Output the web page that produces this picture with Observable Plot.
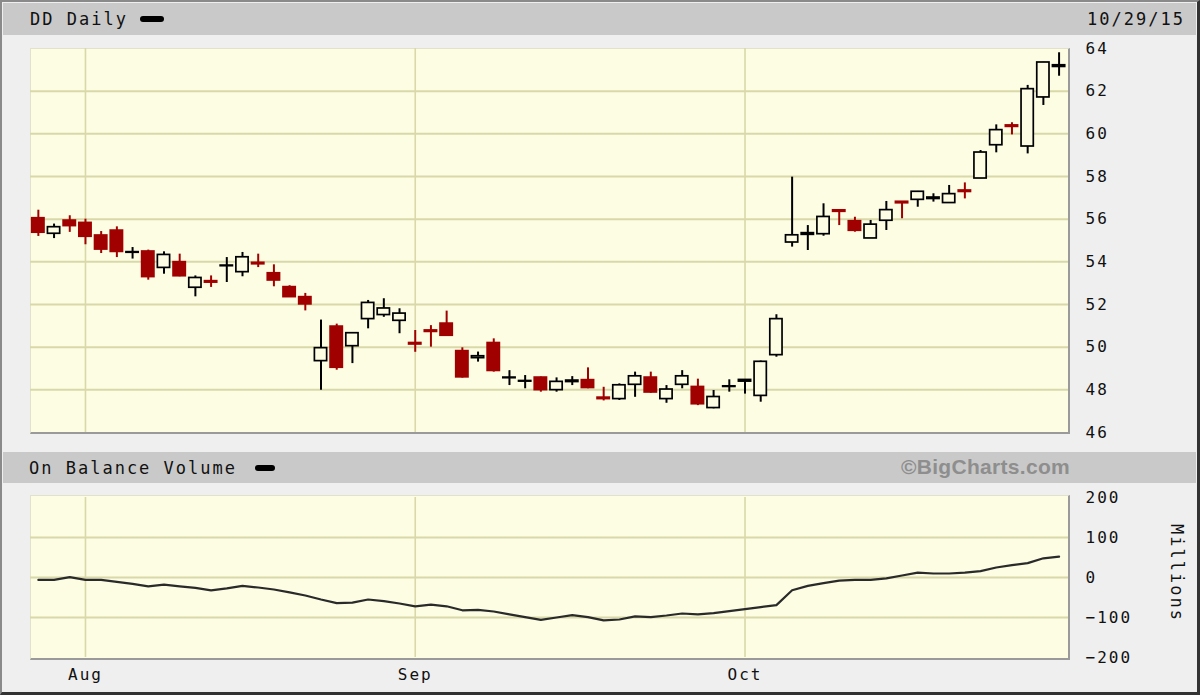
<!DOCTYPE html>
<html><head><meta charset="utf-8">
<script src="https://cdn.jsdelivr.net/npm/d3@7"></script>
<script src="https://cdn.jsdelivr.net/npm/@observablehq/plot@0.6"></script>
<style>
body{margin:0;background:#fff;}
#wrap{position:relative;width:1200px;height:695px;background:#efefef;overflow:hidden;font-family:"DejaVu Sans Mono",monospace;}
.bar{position:absolute;left:3px;width:1193px;background:#c9c9c9;}
.lbl{position:absolute;font-size:17px;letter-spacing:2px;color:#111;line-height:1;white-space:nowrap;}
.dash{position:absolute;background:#000;border-radius:3px;}
.panel{position:absolute;background:#fdfde4;border-top:1px solid #e2e2cc;border-left:1px solid #e2e2cc;border-right:2px solid #9a9a9a;border-bottom:2px solid #9a9a9a;box-sizing:border-box;}
.chart{position:absolute;left:0;}
.chart svg{overflow:visible;}
#frame{position:absolute;left:0;top:0;width:1200px;height:695px;box-sizing:border-box;border:2px solid #8a8a8a;border-right:3px solid #333;border-bottom:3px solid #333;pointer-events:none;}
</style>
</head><body>
<div id="wrap">
  <div class="bar" style="top:3px;height:32px;"></div>
  <div class="lbl" style="left:30px;top:11px;">DD Daily</div>
  <div class="dash" style="left:140px;top:16px;width:24px;height:6px;"></div>
  <div class="lbl" style="right:15px;top:11px;">10/29/15</div>
  <div class="panel" style="left:30px;top:48px;width:1040px;height:386px;"></div>
  <div class="bar" style="top:452px;height:31px;"></div>
  <div class="lbl" style="left:29px;top:460px;">On Balance Volume</div>
  <div class="dash" style="left:255px;top:465px;width:20px;height:6px;"></div>
  <div class="lbl" style="right:130px;top:456px;font-family:'Liberation Sans',Arial,sans-serif;font-weight:bold;font-size:21px;letter-spacing:0.3px;color:#8e8e8e;">©BigCharts.com</div>
  <div class="panel" style="left:30px;top:495px;width:1040px;height:165px;"></div>
  <div class="lbl" style="left:1168px;top:524px;writing-mode:vertical-rl;">Millions</div>
  <div class="chart" id="topChart" style="top:38px;"></div>
  <div class="chart" id="botChart" style="top:487px;"></div>
  <div id="frame"></div>
</div>
<script>
const dates = [
"2015-07-29","2015-07-30","2015-07-31",
"2015-08-03","2015-08-04","2015-08-05","2015-08-06","2015-08-07","2015-08-10","2015-08-11","2015-08-12","2015-08-13","2015-08-14",
"2015-08-17","2015-08-18","2015-08-19","2015-08-20","2015-08-21","2015-08-24","2015-08-25","2015-08-26","2015-08-27","2015-08-28","2015-08-31",
"2015-09-01","2015-09-02","2015-09-03","2015-09-04","2015-09-08","2015-09-09","2015-09-10","2015-09-11","2015-09-14","2015-09-15","2015-09-16",
"2015-09-17","2015-09-18","2015-09-21","2015-09-22","2015-09-23","2015-09-24","2015-09-25","2015-09-28","2015-09-29","2015-09-30",
"2015-10-01","2015-10-02","2015-10-05","2015-10-06","2015-10-07","2015-10-08","2015-10-09","2015-10-12","2015-10-13","2015-10-14",
"2015-10-15","2015-10-16","2015-10-19","2015-10-20","2015-10-21","2015-10-22","2015-10-23","2015-10-26","2015-10-27","2015-10-28","2015-10-29"];
const open  = [56.03,55.33,55.92,55.81,55.22,55.45,54.44,54.47,53.73,53.97,52.80,53.08,53.81,53.53,53.94,53.45,52.80,52.33,49.36,50.95,50.06,51.33,51.52,51.25,
50.18,50.77,51.09,49.80,49.50,50.18,48.56,48.40,48.56,48.00,48.38,48.44,47.62,47.58,48.25,48.56,47.58,48.25,48.12,47.16,48.15,
48.40,47.73,49.64,54.92,55.28,55.31,56.40,55.89,55.11,55.94,56.80,56.92,56.96,56.77,57.33,57.92,59.48,60.38,59.42,61.72,63.15];
const high  = [56.42,55.77,56.16,56.00,55.42,55.64,54.67,54.55,54.47,54.36,53.34,53.34,54.20,54.44,54.36,53.86,52.88,52.52,51.27,51.08,50.64,52.19,52.27,51.80,
50.78,51.01,51.69,49.97,49.77,50.39,48.90,48.67,48.60,48.56,48.62,49.03,48.12,48.28,48.83,48.83,48.20,48.90,48.50,47.97,48.47,
48.45,49.35,51.52,57.97,55.70,56.72,56.42,56.09,55.94,56.83,56.80,57.30,57.19,57.58,57.70,59.22,60.42,60.52,62.27,63.35,63.80];
const low   = [55.19,55.09,55.38,54.80,54.39,54.20,54.13,53.14,53.42,53.30,52.36,52.80,53.03,53.30,53.73,52.83,52.33,51.70,47.98,48.92,49.23,50.86,51.40,50.63,
49.76,50.00,50.55,48.55,49.30,48.83,48.20,48.05,47.89,47.89,48.20,48.05,47.48,47.50,47.65,47.84,47.37,48.05,47.26,47.11,47.89,
47.80,47.42,49.53,54.69,54.53,55.20,55.70,55.39,55.11,55.47,56.02,56.56,56.80,56.75,56.95,57.90,59.11,59.95,59.06,61.33,62.70];
const close = [55.38,55.61,55.69,55.19,54.59,54.48,54.44,53.30,54.31,53.34,53.23,53.04,53.81,54.20,53.90,53.14,52.36,52.02,49.94,49.05,50.64,52.06,51.80,51.56,
50.14,50.73,50.55,48.60,49.56,48.90,48.56,48.40,48.00,48.36,48.42,48.10,47.58,48.20,48.62,47.89,48.00,48.62,47.34,47.65,48.15,
48.45,49.30,51.30,55.23,55.33,56.09,56.36,55.47,55.73,56.41,56.76,57.27,57.00,57.16,57.29,59.11,60.16,60.34,62.08,63.33,63.20];
// On Balance Volume, millions of shares
const obv   = [-6,-6,1,-6,-6,-11,-16,-22,-18,-22,-26,-32,-27,-21,-25,-30,-37,-45,-55,-64,-63,-55,-59,-65,
-72,-68,-72,-82,-81,-85,-92,-99,-106,-100,-94,-99,-107,-105,-97,-99,-95,-90,-92,-89,-84,
-79,-74,-69,-32,-21,-14,-8,-6,-6,-2,5,12,10,10,12,16,25,31,36,48,52];
const monthNames = ["Aug","Sep","Oct"];
const priceTicks = [46,48,50,52,54,56,58,60,62,64];
const priceGrid = [48,50,52,54,56,58,60,62];
const obvTicks = [-200,-100,0,100,200];
const obvGrid = [-100,0,100];

(function(){
const rows = dates.map((d,i)=>({i, date:d, open:open[i], high:high[i], low:low[i], close:close[i], obv:obv[i]}));
const monthIdx = rows.filter((r,i)=> i>0 && r.date.slice(5,7)!==rows[i-1].date.slice(5,7)).map(r=>r.i);

const RED = "#a00000", BG = "#fdfde4", GRID = "#d8d8a8";
const down = d => d.close < d.open;
const col = d => down(d) ? RED : "#000";
const xDomain = [-0.5, dates.length - 0.4];
const font = {fontFamily:"'DejaVu Sans Mono', monospace", fontSize:"16px", letterSpacing:"2px", color:"#111", background:"transparent", overflow:"visible"};

const priceChart = Plot.plot({
  width:1200, height:400, marginLeft:30, marginRight:132, marginTop:10, marginBottom:6,
  style: font,
  x:{domain:xDomain, axis:null},
  y:{domain:[46,64]},
  marks:[
    Plot.gridY(priceGrid, {stroke:GRID, strokeOpacity:1, strokeWidth:2}),
    Plot.gridX(monthIdx, {stroke:GRID, strokeOpacity:1, strokeWidth:1.6}),
    Plot.axisY({anchor:"right", ticks:priceTicks, tickSize:0, tickPadding:17, label:null, fill:"#111"}),
    Plot.ruleX(rows, {x:"i", y1:"low", y2:"high", stroke:col, strokeWidth:2}),
    Plot.rect(rows, {x1:d=>d.i-0.39, x2:d=>d.i+0.39, y1:"open", y2:"close",
      fill:d=>down(d)?RED:BG, stroke:col, strokeWidth:1.7, insetTop:-0.3, insetBottom:-0.3})
  ]
});
document.getElementById("topChart").appendChild(priceChart);

const obvChart = Plot.plot({
  width:1200, height:200, marginLeft:30, marginRight:132, marginTop:10, marginBottom:30,
  style: font,
  x:{domain:xDomain},
  y:{domain:[-200,200]},
  marks:[
    Plot.gridY(obvGrid, {stroke:GRID, strokeOpacity:1, strokeWidth:2}),
    Plot.gridX(monthIdx, {stroke:GRID, strokeOpacity:1, strokeWidth:1.6}),
    Plot.axisY({anchor:"right", ticks:obvTicks, tickSize:0, tickPadding:17, label:null, fill:"#111"}),
    Plot.axisX({anchor:"bottom", ticks:monthIdx, tickFormat:d=>monthNames[monthIdx.indexOf(d)], tickSize:0, tickPadding:11, label:null, fill:"#111"}),
    Plot.line(rows, {x:"i", y:"obv", stroke:"#2a2a2a", strokeWidth:2.2})
  ]
});
document.getElementById("botChart").appendChild(obvChart);
})();
</script>
</body></html>
